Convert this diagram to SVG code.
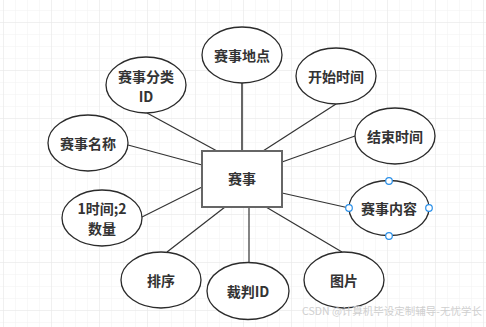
<svg xmlns="http://www.w3.org/2000/svg" width="486" height="327" viewBox="0 0 486 327">
<defs>
<pattern id="minor" x="3" y="10" width="12" height="12" patternUnits="userSpaceOnUse">
<path d="M0 0H12M0 0V12" fill="none" stroke="#f1f1f1" stroke-width="1"/>
</pattern>
<pattern id="major" x="3" y="22" width="48" height="48" patternUnits="userSpaceOnUse">
<path d="M0 0H48M0 0V48" fill="none" stroke="#e8e8e8" stroke-width="1"/>
</pattern>
</defs>
<style>
.e{fill:#fff;stroke:#2b2b2b;stroke-width:1.3}
.t{font-family:"Noto Sans CJK SC","Liberation Sans",sans-serif;font-size:14px;font-weight:bold;fill:#333;text-anchor:middle;dominant-baseline:central}
.c{stroke:#333;stroke-width:1.2;fill:none}
.h{fill:#fff;stroke:#2a8fe8;stroke-width:1.2}
</style>
<rect width="486" height="327" fill="#fff"/>
<rect width="486" height="327" fill="url(#minor)"/>
<rect width="486" height="327" fill="url(#major)"/>
<g id="connectors">
<line class="c" x1="242" y1="83" x2="242" y2="151" style="stroke:#666;stroke-width:2"/>
<line class="c" x1="147" y1="113" x2="217" y2="151"/>
<line class="c" x1="336" y1="104" x2="263" y2="151"/>
<line class="c" x1="355" y1="136" x2="282" y2="162"/>
<line class="c" x1="128" y1="145" x2="202" y2="165"/>
<line class="c" x1="142" y1="217" x2="202" y2="187"/>
<line class="c" x1="349" y1="208" x2="282" y2="193"/>
<line class="c" x1="167" y1="252" x2="225" y2="207"/>
<line class="c" x1="249" y1="263" x2="249" y2="207"/>
<line class="c" x1="342" y1="252" x2="266" y2="207"/>
</g>
<g id="entity">
<rect x="202" y="151" width="80" height="56" fill="#fff" stroke="#666" stroke-width="2"/>
<text class="t" x="242" y="178">赛事</text>
</g>
<g id="n-didian"><ellipse class="e" cx="242" cy="55" rx="40" ry="28"/><text class="t" x="242" y="55">赛事地点</text></g>
<g id="n-fenlei"><ellipse class="e" cx="146" cy="85" rx="40" ry="28"/><text class="t" x="146" y="76">赛事分类</text><text class="t" x="146" y="96">ID</text></g>
<g id="n-kaishi"><ellipse class="e" cx="336" cy="76" rx="40" ry="28"/><text class="t" x="336" y="76">开始时间</text></g>
<g id="n-jieshu"><ellipse class="e" cx="395" cy="136" rx="40" ry="28"/><text class="t" x="395" y="136">结束时间</text></g>
<g id="n-mingcheng"><ellipse class="e" cx="88" cy="143" rx="40" ry="28"/><text class="t" x="88" y="143">赛事名称</text></g>
<g id="n-shuliang"><ellipse class="e" cx="102" cy="218" rx="40" ry="28"/><text class="t" x="102" y="208">1时间;2</text><text class="t" x="102" y="228">数量</text></g>
<g id="n-neirong"><ellipse class="e" cx="389" cy="208" rx="40" ry="27.5"/><text class="t" x="389" y="208">赛事内容</text>
<circle class="h" cx="349" cy="208" r="3.3"/><circle class="h" cx="429" cy="208" r="3.3"/><circle class="h" cx="389" cy="181" r="3.3"/><circle class="h" cx="389" cy="236" r="3.3"/></g>
<g id="n-paixu"><ellipse class="e" cx="161" cy="280" rx="40" ry="28"/><text class="t" x="161" y="280">排序</text></g>
<g id="n-caipan"><ellipse class="e" cx="248" cy="291" rx="41" ry="28.5"/><text class="t" x="248" y="291">裁判ID</text></g>
<g id="n-tupian"><ellipse class="e" cx="344" cy="280" rx="40" ry="28"/><text class="t" x="344" y="280">图片</text></g>
<text x="482" y="315" font-family="Noto Sans CJK SC,Liberation Sans,sans-serif" font-size="10.5" fill="#cfcfcf" text-anchor="end">CSDN @计算机毕设定制辅导-无忧学长</text>
</svg>
